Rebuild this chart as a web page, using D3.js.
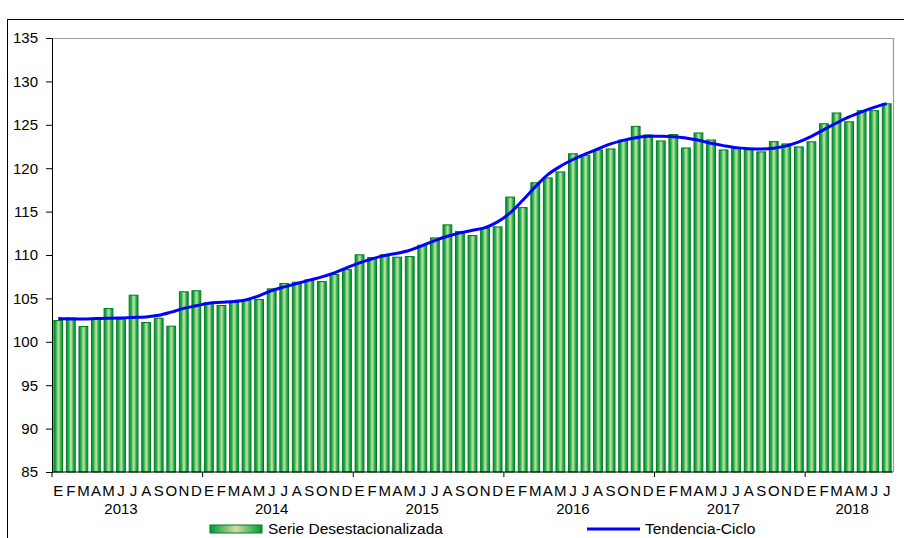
<!DOCTYPE html>
<html>
<head>
<meta charset="utf-8">
<script src="https://cdn.jsdelivr.net/npm/d3@7"></script>
<style>
    body { margin: 0; background: #fff; }
    svg text { font-family: "Liberation Sans", Arial, sans-serif; fill: #000; }
</style>
</head>
<body>
<div class="graphContainer"></div>
<script>
// Month initials (Spanish) and years
const monthLetters = ['E', 'F', 'M', 'A', 'M', 'J', 'J', 'A', 'S', 'O', 'N', 'D'];
const years = [2013, 2014, 2015, 2016, 2017, 2018];
const monthsInYear = [12, 12, 12, 12, 12, 7];

// Serie desestacionalizada (bars)
const serie = [
    102.45, 102.76, 101.76, 102.57, 103.83, 102.6, 105.37, 102.22, 102.72, 101.8, 105.76, 105.88,
    104.49, 104.18, 104.53, 104.76, 104.87, 106.1, 106.71, 106.86, 107.14, 106.94, 107.75, 108.32,
    110.02, 109.71, 110.02, 109.75, 109.82, 111.13, 111.97, 113.47, 112.7, 112.24, 113.1, 113.24,
    116.67, 115.46, 118.32, 118.88, 119.57, 121.66, 121.48, 122.1, 122.22, 123.25, 124.82, 123.83,
    123.14, 123.88, 122.33, 124.06, 123.25, 122.1, 122.25, 122.14, 121.88, 123.06, 122.8, 122.45,
    123.04, 125.12, 126.36, 125.35, 126.63, 126.63, 127.42
];

// Tendencia-Ciclo (line)
const tendencia = [
    102.68, 102.64, 102.64, 102.68, 102.72, 102.75, 102.8, 102.87, 103.05, 103.42, 103.85, 104.15,
    104.45, 104.55, 104.64, 104.85, 105.3, 105.9, 106.33, 106.71, 107.1, 107.48, 107.94, 108.55,
    109.1, 109.56, 109.94, 110.2, 110.55, 111.09, 111.66, 112.16, 112.55, 112.85, 113.16, 113.82,
    114.85, 116.3, 117.85, 119.26, 120.22, 121.0, 121.64, 122.22, 122.8, 123.21, 123.52, 123.67,
    123.67, 123.63, 123.48, 123.21, 122.87, 122.6, 122.37, 122.25, 122.2, 122.3, 122.57, 123.03,
    123.67, 124.44, 125.21, 125.9, 126.48, 127.01, 127.44
];

const yTicks = [85, 90, 95, 100, 105, 110, 115, 120, 125, 130, 135];

const W = 904, H = 538;
const plot = { left: 52, right: 893, top: 38, bottom: 472 };
const fontSize = 15;

const svg = d3.select('.graphContainer')
    .append('svg')
    .attr('width', W)
    .attr('height', H);

// Outer chart frame
svg.append('rect')
    .attr('x', 7.5).attr('y', 19.5)
    .attr('width', 910).attr('height', 560)
    .attr('fill', '#fff')
    .attr('stroke', '#000')
    .attr('stroke-width', 1);

// Gradient for bars
const defs = svg.append('defs');
const grad = defs.append('linearGradient')
    .attr('id', 'barGrad')
    .attr('x1', '0%').attr('x2', '100%').attr('y1', '0%').attr('y2', '0%');
[
    ['0%', '#009a38'],
    ['22%', '#20aa48'],
    ['48%', '#b8de9c'],
    ['58%', '#b0da96'],
    ['80%', '#22ac4a'],
    ['100%', '#009a38']
].forEach(([o, c]) => grad.append('stop').attr('offset', o).attr('stop-color', c));

// Scales
const idx = d3.range(serie.length);
const x = d3.scaleBand()
    .domain(idx)
    .range([plot.left, plot.right])
    .paddingInner(0.3)
    .paddingOuter(0.15);

const y = d3.scaleLinear()
    .domain([85, 135])
    .range([plot.bottom, plot.top]);

// Plot area border (top and right in grey)
svg.append('path')
    .attr('d', `M${plot.left},${plot.top + 0.5}H${plot.right + 0.5}V${plot.bottom}`)
    .attr('fill', 'none')
    .attr('stroke', '#9a9a9a')
    .attr('stroke-width', 1.2);

// Bars
svg.selectAll('.bar')
    .data(serie)
    .enter()
    .append('rect')
    .attr('class', 'bar')
    .attr('x', (d, i) => x(i))
    .attr('y', d => y(d))
    .attr('width', x.bandwidth())
    .attr('height', d => y(85) - y(d))
    .attr('fill', 'url(#barGrad)')
    .attr('stroke', '#007a20')
    .attr('stroke-width', 1);

// Y axis
const yAxis = svg.append('g')
    .attr('transform', `translate(${plot.left},0)`)
    .call(d3.axisLeft(y).tickValues(yTicks).tickSize(6).tickPadding(8));
yAxis.select('.domain').attr('stroke', '#000');
yAxis.selectAll('.tick line').attr('stroke', '#000');
yAxis.selectAll('.tick text')
    .attr('font-size', fontSize)
    .attr('font-family', '"Liberation Sans", Arial, sans-serif');

// X axis line
svg.append('line')
    .attr('x1', plot.left).attr('x2', plot.right)
    .attr('y1', plot.bottom).attr('y2', plot.bottom)
    .attr('stroke', '#000');

// Year boundaries, month letters and year labels
let start = 0;
const step = x.step();
years.forEach((yr, k) => {
    const n = monthsInYear[k];
    const x0 = plot.left + start * step;
    svg.append('line')
        .attr('x1', x0).attr('x2', x0)
        .attr('y1', plot.bottom).attr('y2', plot.bottom + 5)
        .attr('stroke', '#000');
    for (let m = 0; m < n; m++) {
        svg.append('text')
            .attr('x', x(start + m) + x.bandwidth() / 2)
            .attr('y', 496)
            .attr('text-anchor', 'middle')
            .attr('font-size', fontSize)
            .text(monthLetters[m]);
    }
    const mid = start + Math.floor((n - 1) / 2);
    svg.append('text')
        .attr('x', x(mid) + x.bandwidth() / 2 + (n < 12 ? 3 : 0))
        .attr('y', 514)
        .attr('text-anchor', 'middle')
        .attr('font-size', fontSize)
        .text(yr);
    start += n;
});

// Trend line
svg.append('path')
    .datum(tendencia)
    .attr('fill', 'none')
    .attr('stroke', '#0000ff')
    .attr('stroke-width', 3)
    .attr('d', d3.line()
        .x((d, i) => x(i) + x.bandwidth() / 2)
        .y(d => y(d))
        .curve(d3.curveCatmullRom.alpha(0.5))
    );

// Legend
const legendGrad = defs.append('linearGradient')
    .attr('id', 'legGrad')
    .attr('x1', '0%').attr('x2', '100%');
[['0%', '#009a38'], ['50%', '#d2dca6'], ['100%', '#009a38']]
    .forEach(([o, c]) => legendGrad.append('stop').attr('offset', o).attr('stop-color', c));

svg.append('rect')
    .attr('x', 210).attr('y', 525)
    .attr('width', 52).attr('height', 8)
    .attr('fill', 'url(#legGrad)')
    .attr('stroke', '#007a20');
svg.append('text')
    .attr('x', 268).attr('y', 534)
    .attr('font-size', 15.5)
    .text('Serie Desestacionalizada');

svg.append('line')
    .attr('x1', 587).attr('x2', 640)
    .attr('y1', 529).attr('y2', 529)
    .attr('stroke', '#0000ff')
    .attr('stroke-width', 3);
svg.append('text')
    .attr('x', 645).attr('y', 534)
    .attr('font-size', 15.5)
    .text('Tendencia-Ciclo');
</script>
</body>
</html>
